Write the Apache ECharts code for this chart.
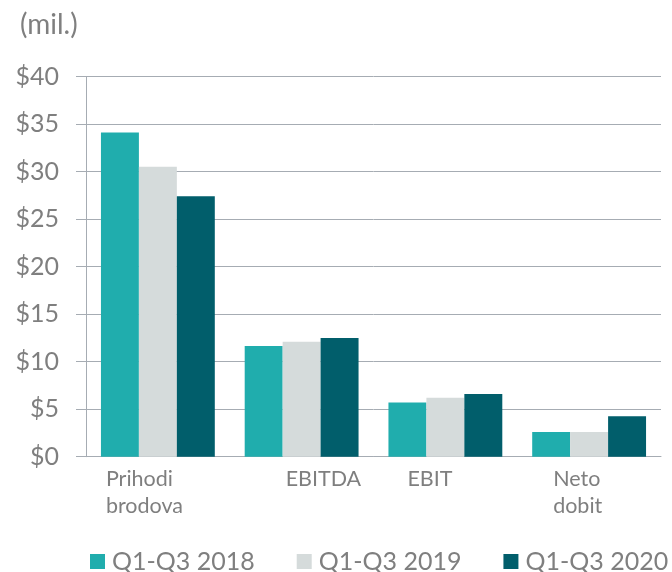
<!DOCTYPE html>
<html>
<head>
<meta charset="utf-8">
<script src="https://cdn.jsdelivr.net/npm/echarts@6/dist/echarts.min.js"></script>
<style>
html,body{margin:0;padding:0;background:#fff;}
#chart{width:672px;height:572px;}
</style>
</head>
<body>
<div id="chart"></div>
<script>
// ---- data ----
var categories = ['Prihodi\nbrodova', 'EBITDA', 'EBIT', 'Neto\ndobit'];
var seriesNames = ['Q1-Q3 2018', 'Q1-Q3 2019', 'Q1-Q3 2020'];
var values2018 = [34.1, 11.65, 5.7, 2.6];
var values2019 = [30.5, 12.1, 6.2, 2.6];
var values2020 = [27.4, 12.5, 6.6, 4.25];
var yTicks = [0, 5, 10, 15, 20, 25, 30, 35, 40];
var unitLabel = '(mil.)';

// ---- styling ----
var colors = ['#20adad', '#d5dbdb', '#015e6b'];
var labelShift = [-52, -16, -38, -36];
var FONT = 'Lato, "Open Sans", sans-serif';
var TXT = '#7f7f7f';
var LINE = '#a6acb3';

var chart = echarts.init(document.getElementById('chart'), null, {renderer: 'canvas'});

var xData = categories.map(function (c, i) {
  return {value: c, textStyle: {align: 'left', padding: [0, 0, 0, labelShift[i]]}};
});

var valueSets = [values2018, values2019, values2020];

chart.setOption({
  animation: false,
  color: colors,
  title: {
    text: unitLabel,
    left: 15, top: 6,
    textStyle: {fontFamily: FONT, fontSize: 28, fontWeight: 'normal', color: TXT}
  },
  legend: {
    top: 549, left: 90, width: 600, padding: 0,
    itemWidth: 15, itemHeight: 15, itemGap: 42,
    icon: 'rect',
    data: seriesNames,
    textStyle: {fontFamily: FONT, fontSize: 25, color: TXT, padding: [0, 0, 0, 2]}
  },
  grid: {left: 86, right: 11, top: 76.5, bottom: 115.3, containLabel: false},
  xAxis: {
    type: 'category',
    data: xData,
    axisLine: {show: true, lineStyle: {color: LINE, width: 1}},
    axisTick: {show: false},
    axisLabel: {
      interval: 0, align: 'left', margin: 9,
      fontFamily: FONT, fontSize: 21.5, color: TXT, lineHeight: 27
    }
  },
  yAxis: {
    type: 'value',
    min: yTicks[0], max: yTicks[yTicks.length - 1], interval: yTicks[1] - yTicks[0],
    axisLine: {show: true, lineStyle: {color: LINE, width: 1}},
    axisTick: {show: true, length: 10, lineStyle: {color: LINE}},
    splitLine: {show: true, lineStyle: {color: LINE, width: 1}},
    axisLabel: {
      margin: 27, fontFamily: FONT, fontSize: 25, color: TXT,
      formatter: function (v) { return '$' + v; }
    }
  },
  series: seriesNames.map(function (n, i) {
    return {
      name: n, type: 'bar', data: valueSets[i],
      barGap: '0%', barCategoryGap: '20.8%',
      itemStyle: {color: colors[i]}
    };
  })
});
</script>
</body>
</html>
